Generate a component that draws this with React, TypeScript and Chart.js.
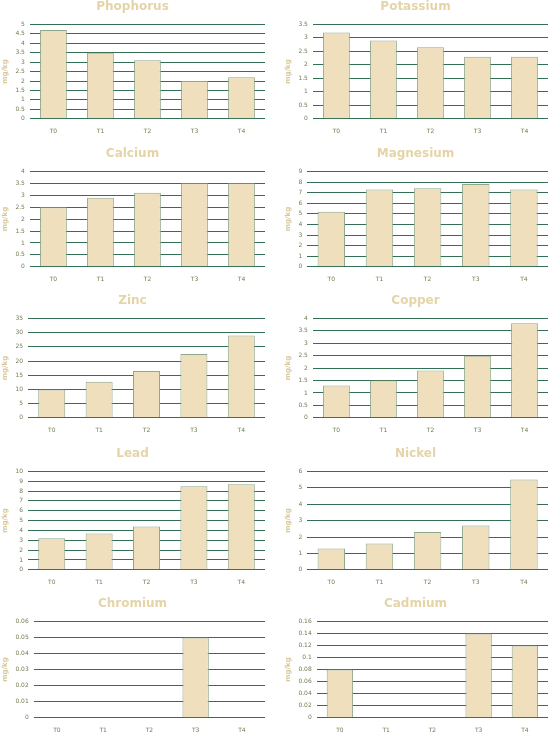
import { useEffect, useRef } from 'react';
import { Chart } from 'chart.js/auto';

const categories = ['T0', 'T1', 'T2', 'T3', 'T4'];

const phophorus = [4.7, 3.5, 3.1, 2.0, 2.2];
const potassium = [3.2, 2.9, 2.65, 2.3, 2.3];
const calcium = [2.5, 2.9, 3.1, 3.5, 3.5];
const magnesium = [5.2, 7.3, 7.4, 7.8, 7.3];
const zinc = [10, 12.7, 16.5, 22.5, 29];
const copper = [1.3, 1.5, 1.9, 2.5, 3.8];
const lead = [3.2, 3.7, 4.4, 8.5, 8.7];
const nickel = [1.3, 1.6, 2.3, 2.7, 5.5];
const chromium = [0, 0, 0, 0.05, 0];
const cadmium = [0.08, 0, 0, 0.14, 0.12];

const panels = [
  { title: 'Phophorus', values: phophorus, max: 5, step: 0.5 },
  { title: 'Potassium', values: potassium, max: 3.5, step: 0.5 },
  { title: 'Calcium', values: calcium, max: 4, step: 0.5 },
  { title: 'Magnesium', values: magnesium, max: 9, step: 1 },
  { title: 'Zinc', values: zinc, max: 35, step: 5 },
  { title: 'Copper', values: copper, max: 4, step: 0.5 },
  { title: 'Lead', values: lead, max: 10, step: 1 },
  { title: 'Nickel', values: nickel, max: 6, step: 1 },
  { title: 'Chromium', values: chromium, max: 0.06, step: 0.01 },
  { title: 'Cadmium', values: cadmium, max: 0.16, step: 0.02 },
];

// row placement of the 2-column grid (top, height)
const rowTops = [0, 147, 294, 447, 597];
const rowHeights = [144, 145, 149, 148, 146];

const FONT = "'DejaVu Sans', Verdana, sans-serif";

type PanelProps = {
  title: string;
  values: number[];
  max: number;
  step: number;
};

const BarPanel = ({ title, values, max, step }: PanelProps) => {
  const chartRef = useRef<HTMLCanvasElement>(null);
  const chartInstance = useRef<Chart | null>(null);

  useEffect(() => {
    if (!chartRef.current) return;
    if (chartInstance.current) chartInstance.current.destroy();

    const ctx = chartRef.current.getContext('2d');
    if (!ctx) return;

    chartInstance.current = new Chart(ctx, {
      type: 'bar',
      data: {
        labels: categories,
        datasets: [{
          label: title,
          data: values,
          backgroundColor: '#efdfbd',
          borderColor: '#8fa88c',
          borderWidth: 1,
          barPercentage: 0.6,
          categoryPercentage: 0.95,
        }],
      },
      options: {
        responsive: true,
        maintainAspectRatio: false,
        animation: false,
        layout: { padding: 0 },
        plugins: {
          legend: { display: false },
          tooltip: { enabled: false },
          title: {
            display: true,
            text: title,
            color: '#e4d4a8',
            font: { family: FONT, size: 12, weight: 'bold' },
            padding: { top: 0, bottom: 10 },
          },
        },
        scales: {
          x: {
            grid: { display: false, drawTicks: false },
            border: { display: false },
            ticks: {
              color: '#6f7d55',
              font: { family: FONT, size: 6 },
              padding: 9,
            },
          },
          y: {
            min: 0,
            max,
            ticks: {
              stepSize: step,
              autoSkip: false,
              color: '#6f7d55',
              font: { family: FONT, size: 6 },
              padding: 5,
              callback: (v) => String(Number(Number(v).toFixed(6))),
            },
            grid: { color: '#336f52', lineWidth: 1, drawTicks: false },
            border: { display: false },
            title: {
              display: true,
              text: 'mg/kg',
              color: '#d8c89c',
              font: { family: FONT, size: 7, weight: 'bold' },
              padding: 1,
            },
          },
        },
      },
    });

    return () => {
      if (chartInstance.current) {
        chartInstance.current.destroy();
        chartInstance.current = null;
      }
    };
  }, [title, values, max, step]);

  return <canvas ref={chartRef} />;
};

const App = () => (
  <div style={{ position: 'absolute', left: 0, top: 0, width: 548, height: 733, background: '#fff', overflow: 'hidden' }}>
    {panels.map((p, i) => {
      const row = Math.floor(i / 2);
      return (
        <div
          key={p.title}
          style={{
            position: 'absolute',
            left: (i % 2) * 283,
            top: rowTops[row],
            width: 265,
            height: rowHeights[row],
          }}
        >
          <BarPanel {...p} />
        </div>
      );
    })}
  </div>
);

export default App;
